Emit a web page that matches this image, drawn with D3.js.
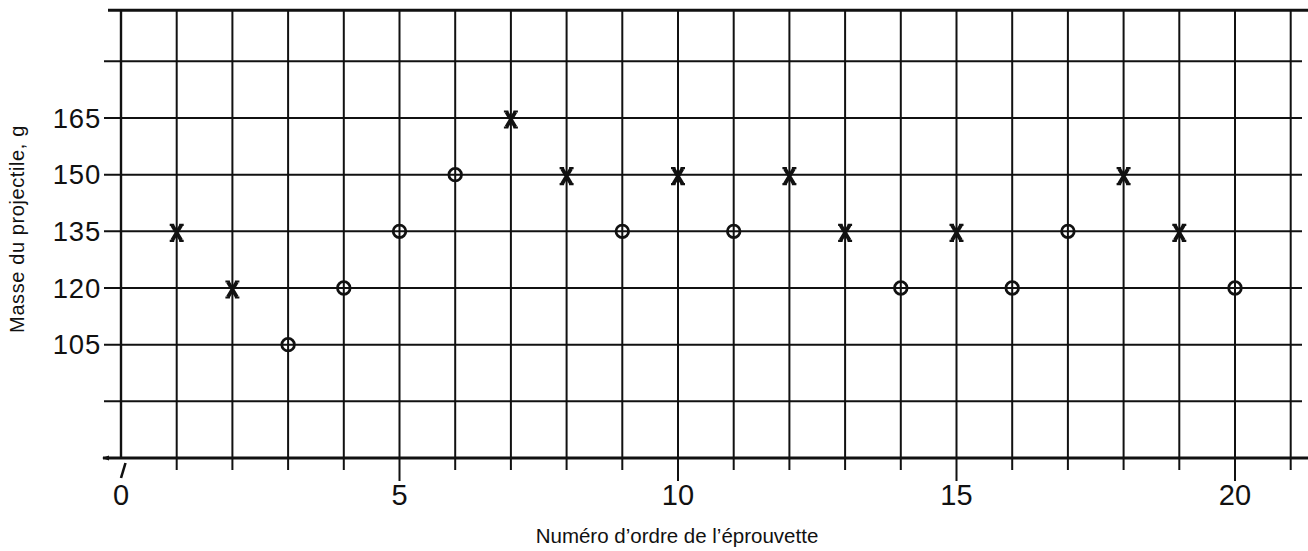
<!DOCTYPE html>
<html><head><meta charset="utf-8">
<script src="https://cdn.jsdelivr.net/npm/d3@7"></script>
<style>
html,body{margin:0;padding:0;background:#fff;}
svg{display:block;}
text{font-family:"Liberation Sans",Arial,Helvetica,sans-serif;fill:#111;}
</style></head>
<body>
<svg id="c" width="1308" height="551"></svg>
<script>
// Data
const specimen = [1,2,3,4,5,6,7,8,9,10,11,12,13,14,15,16,17,18,19,20];
const mass     = [135,120,105,120,135,150,165,150,135,150,135,150,135,120,135,120,135,150,135,120];
const outcome  = ["x","x","o","o","o","o","x","x","o","x","o","x","x","o","x","o","o","x","x","o"];
const xTickLabels = [0,5,10,15,20];
const yTickLabels = [105,120,135,150,165];
const yGridValues = [90,105,120,135,150,165,180];
const xGridValues = d3.range(1,22);
const yFrameTop = 193.5;
const yAxisValue = 75;

const svg = d3.select("#c");
const x = d3.scaleLinear().domain([0,21]).range([121,1290.7]);
const y = d3.scaleLinear().domain([75,165]).range([458,118]);
const ink = "#111";

// horizontal grid
svg.append("g").selectAll("line").data(yGridValues).join("line")
  .attr("x1",104).attr("x2",1302)
  .attr("y1",d=>y(d)).attr("y2",d=>y(d))
  .attr("stroke",ink).attr("stroke-width",2);

// top frame line
svg.append("line").attr("x1",108).attr("x2",1308)
  .attr("y1",y(yFrameTop)).attr("y2",y(yFrameTop))
  .attr("stroke",ink).attr("stroke-width",3);

// vertical grid lines (with ticks below axis)
svg.append("g").selectAll("line").data(xGridValues).join("line")
  .attr("x1",d=>x(d)).attr("x2",d=>x(d))
  .attr("y1",y(yFrameTop)).attr("y2",d=> d%5===0 ? 481 : 470)
  .attr("stroke",ink).attr("stroke-width",2);

// y axis line at 0
svg.append("line").attr("x1",x(0)).attr("x2",x(0))
  .attr("y1",y(yFrameTop)).attr("y2",y(yAxisValue))
  .attr("stroke",ink).attr("stroke-width",2.4);
svg.append("line").attr("x1",x(0)+4.5).attr("y1",y(yAxisValue)+5)
  .attr("x2",x(0)).attr("y2",y(yAxisValue)+20)
  .attr("stroke",ink).attr("stroke-width",2.6);

// x axis line
svg.append("line").attr("x1",103).attr("x2",1308)
  .attr("y1",y(yAxisValue)).attr("y2",y(yAxisValue))
  .attr("stroke",ink).attr("stroke-width",3);
svg.append("path").attr("d",`M102,${y(yAxisValue)} l7,-2.5 l0,5 z`).attr("fill",ink);

// x tick labels
svg.append("g").selectAll("text").data(xTickLabels).join("text")
  .attr("x",d=>x(d)).attr("y",505)
  .attr("text-anchor","middle").attr("font-size",29)
  .text(d=>d);

// y tick labels
svg.append("g").selectAll("text").data(yTickLabels).join("text")
  .attr("x",101).attr("y",d=>y(d)+9.5)
  .attr("text-anchor","end").attr("font-size",27.5).attr("letter-spacing",0.8)
  .text(d=>d);

// axis titles
svg.append("text").attr("x",677).attr("y",543).attr("text-anchor","middle")
  .attr("font-size",20.5).text("Numéro d’ordre de l’éprouvette");
svg.append("text").attr("transform","translate(24,229) rotate(-90)")
  .attr("text-anchor","middle").attr("font-size",20).attr("letter-spacing",0.6)
  .text("Masse du projectile, g");

// markers
const pts = specimen.map((s,i)=>({s, m:mass[i], o:outcome[i]}));
const g = svg.append("g");
g.selectAll("circle").data(pts.filter(d=>d.o==="o")).join("circle")
  .attr("cx",d=>x(d.s)).attr("cy",d=>y(d.m)).attr("r",6.3)
  .attr("fill","none").attr("stroke",ink).attr("stroke-width",2.8);
const xs = g.selectAll("g.x").data(pts.filter(d=>d.o==="x")).join("g")
  .attr("class","x").attr("transform",d=>`translate(${x(d.s)},${y(d.m)+1.5})`);
xs.append("path").attr("d","M-4.5,-7.5 L4.5,7.5 M4.5,-7.5 L-4.5,7.5")
  .attr("stroke",ink).attr("stroke-width",3.8).attr("fill","none");
xs.append("path").attr("d","M-7,-8 L-2.5,-8 M2.5,-8 L7,-8 M-7,8 L-2.5,8 M2.5,8 L7,8")
  .attr("stroke",ink).attr("stroke-width",2.2).attr("fill","none");
</script>
</body></html>
